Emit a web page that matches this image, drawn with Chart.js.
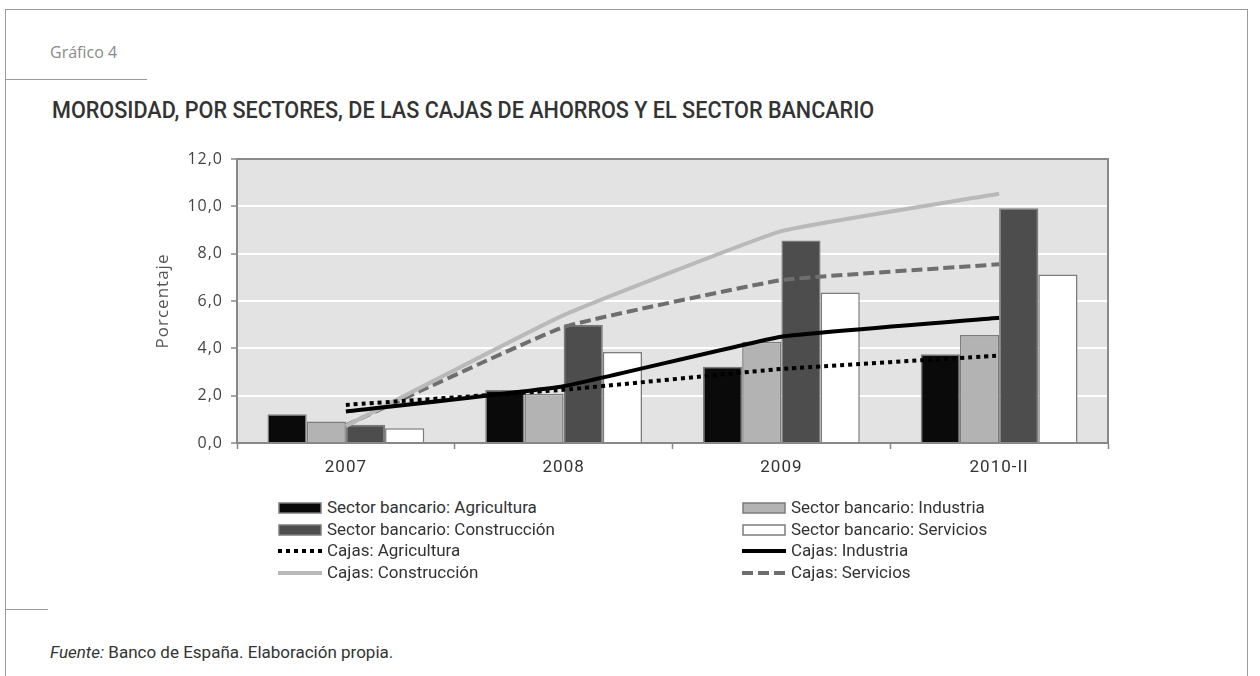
<!DOCTYPE html>
<html lang="es">
<head>
<meta charset="utf-8">
<title>Morosidad por sectores</title>
<script src="https://cdn.jsdelivr.net/npm/chart.js@4.4.1/dist/chart.umd.min.js"></script>
<style>
html,body{margin:0;padding:0;background:#fff;}
body{width:1260px;height:676px;position:relative;overflow:hidden;font-family:Roboto,sans-serif;color:#333;}
#marco{position:absolute;left:5px;top:9px;width:1241px;height:720px;border:1.5px solid #9a9a9a;border-bottom:none;}
.raya{position:absolute;left:5px;height:0;border-top:1.5px solid #9a9a9a;}
#num{position:absolute;left:50px;top:41px;font:16px/22px "Open Sans";color:#8a8a8a;}
#titulo{position:absolute;left:52px;top:96px;font:500 24px/28px Roboto;color:#333;white-space:nowrap;transform:scaleX(0.9);transform-origin:0 0;}
#caja{position:absolute;left:130px;top:140px;width:1000px;height:350px;}
#leyenda{position:absolute;left:278px;top:497px;display:grid;grid-template-columns:464px auto;grid-auto-rows:21.7px;font:17px/21.7px Roboto;color:#333;}
#leyenda div{display:flex;align-items:center;white-space:nowrap;}
#leyenda canvas{margin-right:5px;}
#fuente{position:absolute;left:50px;top:642px;font:17px/20px Roboto;color:#333;}
</style>
</head>
<body>
<div id="marco"></div>
<div id="num">Gráfico 4</div>
<div class="raya" style="top:79px;width:142px"></div>
<div id="titulo">MOROSIDAD, POR SECTORES, DE LAS CAJAS DE AHORROS Y EL SECTOR BANCARIO</div>
<div id="caja"><canvas id="grafico" width="1000" height="350"></canvas></div>
<div id="leyenda"></div>
<div class="raya" style="top:609px;width:43px"></div>
<div id="fuente"><i>Fuente:</i> Banco de España. Elaboración propia.</div>

<script>
const anios=["2007","2008","2009","2010-II"];

// Sector bancario (barras)
const bancAgricultura=[1.22,2.24,3.22,3.75];
const bancIndustria=[0.91,2.08,4.28,4.56];
const bancConstruccion=[0.77,5.0,8.56,9.92];
const bancServicios=[0.62,3.84,6.36,7.12];

// Cajas (lineas)
const cajasAgricultura=[1.61,2.25,3.13,3.69];
const cajasIndustria=[1.33,2.4,4.49,5.29];
const cajasConstruccion=[0.72,5.4,8.95,10.53];
const cajasServicios=[0.75,4.9,6.88,7.55];

const ticksY=[0,2,4,6,8,10,12];

// fondo gris y marco del area de dibujo
const fondo={
id:"fondo",
beforeDraw(chart){
const {ctx,chartArea:a}=chart;
ctx.letterSpacing="1px";
ctx.save();
ctx.fillStyle="#e3e3e3";
ctx.fillRect(a.left,a.top,a.right-a.left,a.bottom-a.top);
ctx.restore();
},
beforeDatasetsDraw(chart){
const {ctx,chartArea:a}=chart;
ctx.save();
ctx.strokeStyle="#8a8a8a";
ctx.lineWidth=2;
ctx.beginPath();
ctx.moveTo(a.left,a.top);
ctx.lineTo(a.right,a.top);
ctx.lineTo(a.right,a.bottom);
ctx.stroke();
ctx.restore();
}
};

function barra(label,data,color){
return {label:label,data:data,backgroundColor:color,borderColor:"#7c7c7c",borderWidth:1.5,order:2};
}

function linea(label,data,color,dash){
return {type:"line",label:label,data:data,borderColor:color,backgroundColor:color,borderWidth:4,borderDash:dash,
pointRadius:0,tension:0.1,fill:false,order:1,borderCapStyle:"butt"};
}

function dibujar(){

let chart=new Chart(document.getElementById("grafico"),{
type:"bar",
data:{
labels:anios,
datasets:[
barra("Sector bancario: Agricultura",bancAgricultura,"#0a0a0a"),
barra("Sector bancario: Industria",bancIndustria,"#b3b3b3"),
barra("Sector bancario: Construcción",bancConstruccion,"#4d4d4d"),
barra("Sector bancario: Servicios",bancServicios,"#ffffff"),
linea("Cajas: Agricultura",cajasAgricultura,"#000000",[4,4]),
linea("Cajas: Industria",cajasIndustria,"#000000",[]),
linea("Cajas: Construcción",cajasConstruccion,"#b9b9b9",[]),
linea("Cajas: Servicios",cajasServicios,"#6e6e6e",[11,5])
]
},
options:{
responsive:false,
animation:false,
layout:{padding:{top:19,right:22,left:0,bottom:0}},
datasets:{bar:{categoryPercentage:0.72,barPercentage:1}},
plugins:{legend:{display:false},tooltip:{enabled:false}},
scales:{
x:{
grid:{drawOnChartArea:false,offset:true,tickLength:6,tickColor:"#888",tickWidth:1.5},
border:{color:"#888",width:2},
ticks:{color:"#333",font:{family:"Roboto",size:17},padding:9},
afterFit:s=>{s.height=47;}
},
y:{
min:0,max:12,
grid:{color:"#ffffff",lineWidth:2,tickLength:6,tickColor:"#888",tickWidth:1.5},
border:{color:"#888",width:2},
afterBuildTicks:s=>{s.ticks=ticksY.map(v=>({value:v}));},
ticks:{color:"#444",font:{family:"Open Sans",size:16},padding:8,
callback:v=>v.toFixed(1).replace(".",",")},
title:{display:true,text:"Porcentaje",color:"#555",font:{family:"Open Sans",size:17},padding:{top:23}},
afterFit:s=>{s.width=107;}
}
}
},
plugins:[fondo]
});

// leyenda en dos columnas
let ley=document.getElementById("leyenda");
chart.data.datasets.forEach(d=>{
let fila=document.createElement("div");
let c=document.createElement("canvas");
c.width=44;c.height=12;
let g=c.getContext("2d");
if(d.type==="line"){
g.strokeStyle=d.borderColor;
g.lineWidth=4;
g.setLineDash(d.borderDash);
g.beginPath();g.moveTo(0,6);g.lineTo(44,6);g.stroke();
}else{
g.fillStyle=d.backgroundColor;
g.fillRect(1,1,42,10);
g.strokeStyle=d.borderColor;
g.lineWidth=1.5;
g.strokeRect(1,1,42,10);
}
fila.appendChild(c);
fila.appendChild(document.createTextNode(d.label));
ley.appendChild(fila);
});

}

Promise.all([
document.fonts.load('16px "Open Sans"'),
document.fonts.load('17px Roboto'),
document.fonts.load('500 24px Roboto')
]).then(dibujar,dibujar);
</script>
</body>
</html>
